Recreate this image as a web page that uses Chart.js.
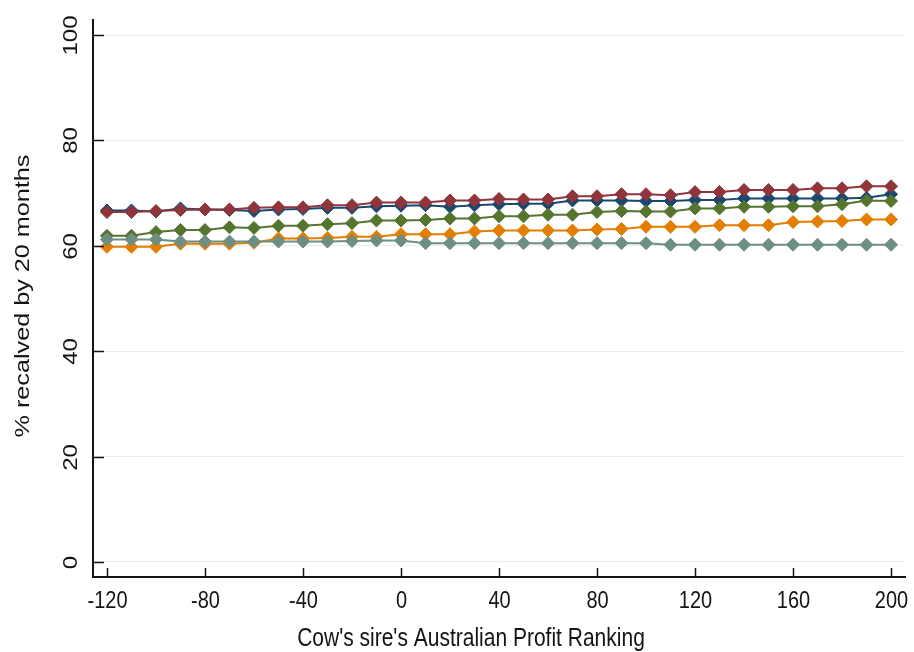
<!DOCTYPE html>
<html lang="en">
<head>
    <meta charset="UTF-8">
    <title>Recalving rate by sire profit ranking</title>
    <script src="https://cdn.jsdelivr.net/npm/chart.js@4.4.0/dist/chart.umd.min.js"></script>
    <style>
        body { margin: 0; background: #ffffff; }
        #wrap { width: 914px; height: 652px; }
    </style>
</head>
<body>
    <div id="wrap">
        <canvas id="recalvChart" width="914" height="652"></canvas>
    </div>

    <script>
        // Sire profit ranking (x) and % recalved by 20 months for each group
        const rankings = [-120, -110, -100, -90, -80, -70, -60, -50, -40, -30, -20, -10, 0, 10, 20, 30, 40,
                          50, 60, 70, 80, 90, 100, 110, 120, 130, 140, 150, 160, 170, 180, 190, 200];

        const navySeries = [66.7, 66.7, 66.5, 67.1, 66.9, 66.8, 66.6, 66.9, 67.0, 67.2, 67.2, 67.5, 67.6, 67.7, 67.4, 67.7, 67.9,
                            68.0, 68.0, 68.6, 68.6, 68.6, 68.5, 68.5, 68.7, 68.7, 69.0, 69.0, 69.0, 69.0, 69.0, 69.1, 69.8];
        const maroonSeries = [66.4, 66.4, 66.6, 66.8, 66.9, 66.9, 67.2, 67.3, 67.3, 67.7, 67.7, 68.2, 68.2, 68.2, 68.6, 68.6, 68.9,
                              68.8, 68.8, 69.4, 69.4, 69.8, 69.8, 69.6, 70.2, 70.2, 70.6, 70.6, 70.6, 70.9, 70.9, 71.3, 71.3];
        const greenSeries = [61.9, 61.9, 62.6, 63.0, 63.0, 63.5, 63.4, 63.8, 63.8, 64.1, 64.3, 64.8, 64.8, 64.9, 65.2, 65.2, 65.6,
                             65.6, 65.9, 65.9, 66.4, 66.6, 66.5, 66.5, 67.1, 67.1, 67.4, 67.4, 67.5, 67.5, 67.9, 68.6, 68.5];
        const orangeSeries = [59.8, 59.8, 59.8, 60.4, 60.4, 60.4, 60.6, 61.4, 61.4, 61.5, 61.7, 61.7, 62.2, 62.2, 62.2, 62.7, 62.9,
                              62.9, 62.9, 62.9, 63.1, 63.2, 63.6, 63.6, 63.6, 63.9, 63.9, 63.9, 64.5, 64.6, 64.7, 65.0, 65.0];
        const graySeries = [61.2, 61.2, 61.2, 60.8, 60.8, 60.8, 60.8, 60.8, 60.8, 60.8, 60.9, 61.0, 61.0, 60.5, 60.5, 60.5, 60.5,
                            60.5, 60.5, 60.5, 60.5, 60.5, 60.5, 60.2, 60.2, 60.2, 60.2, 60.2, 60.2, 60.2, 60.2, 60.2, 60.2];

        const xTicks = [-120, -80, -40, 0, 40, 80, 120, 160, 200];
        const yTicks = [0, 20, 40, 60, 80, 100];

        const xTitle = "Cow's sire's Australian Profit Ranking";
        const yTitle = '% recalved by 20 months';

        const TEXT_COLOR = '#141414';
        const FONT = 'Arial, "Liberation Sans", sans-serif';
        const STRETCH = 1.2; // glyphs are drawn a bit taller than wide

        function toPoints(values) {
            return values.map((v, i) => ({ x: rankings[i], y: v }));
        }

        function makeSeries(values, color, order) {
            return {
                data: toPoints(values),
                borderColor: color,
                backgroundColor: color,
                borderWidth: 2,
                pointStyle: 'rectRot',
                pointRadius: 6.5,
                pointBorderWidth: 1,
                pointBorderColor: color,
                tension: 0,
                order: order
            };
        }

        function drawLabel(ctx, text, x, y, size, rotated) {
            ctx.save();
            ctx.translate(x, y);
            if (rotated) {
                ctx.rotate(-Math.PI / 2);
                ctx.scale(STRETCH, 1);
            } else {
                ctx.scale(1, STRETCH);
            }
            ctx.font = size + 'px ' + FONT;
            ctx.fillStyle = TEXT_COLOR;
            ctx.textAlign = 'center';
            ctx.textBaseline = 'middle';
            ctx.fillText(text, 0, 0);
            ctx.restore();
        }

        // Inward tick marks, tick labels and axis titles
        const axisDecor = {
            id: 'axisDecor',
            afterDraw(chart) {
                const ctx = chart.ctx;
                const xs = chart.scales.x;
                const ys = chart.scales.y;
                const area = chart.chartArea;

                ctx.save();
                ctx.strokeStyle = TEXT_COLOR;
                ctx.lineWidth = 1.5;
                xs.ticks.forEach(t => {
                    const px = Math.round(xs.getPixelForValue(t.value)) + 0.5;
                    ctx.beginPath();
                    ctx.moveTo(px, area.bottom);
                    ctx.lineTo(px, area.bottom - 9);
                    ctx.stroke();
                    drawLabel(ctx, String(t.value), px, area.bottom + 24, 20, false);
                });
                ys.ticks.forEach(t => {
                    const py = Math.round(ys.getPixelForValue(t.value)) + 0.5;
                    ctx.beginPath();
                    ctx.moveTo(area.left, py);
                    ctx.lineTo(area.left + 11, py);
                    ctx.stroke();
                    drawLabel(ctx, String(t.value), 71, py, 20, true);
                });
                ctx.restore();

                drawLabel(ctx, xTitle, 471, 639, 21, false);
                drawLabel(ctx, yTitle, 23, 296, 21, true);
            }
        };

        const chart = new Chart(document.getElementById('recalvChart'), {
            type: 'line',
            data: {
                datasets: [
                    makeSeries(navySeries, '#1a476f', 4),
                    makeSeries(maroonSeries, '#90353b', 3),
                    makeSeries(greenSeries, '#55752f', 2),
                    makeSeries(orangeSeries, '#e37e00', 1),
                    makeSeries(graySeries, '#6e8e84', 0)
                ]
            },
            options: {
                responsive: false,
                animation: false,
                layout: { padding: { top: 20, right: 9, left: 0, bottom: 0 } },
                plugins: {
                    legend: { display: false },
                    tooltip: { enabled: false }
                },
                scales: {
                    x: {
                        type: 'linear',
                        min: -125.7,
                        max: 205.7,
                        afterBuildTicks: scale => {
                            scale.ticks = xTicks.map(v => ({ value: v }));
                        },
                        afterFit: scale => { scale.height = 75; },
                        ticks: { display: false },
                        grid: { display: false, drawTicks: false },
                        border: { display: true, color: '#141414', width: 2 }
                    },
                    y: {
                        type: 'linear',
                        min: -2.85,
                        max: 102.85,
                        afterBuildTicks: scale => {
                            scale.ticks = yTicks.map(v => ({ value: v }));
                        },
                        afterFit: scale => { scale.width = 93; },
                        ticks: { display: false },
                        grid: { color: '#e3edf1', lineWidth: 1, drawTicks: false },
                        border: { display: true, color: '#141414', width: 2 }
                    }
                }
            },
            plugins: [axisDecor]
        });
    </script>
</body>
</html>
